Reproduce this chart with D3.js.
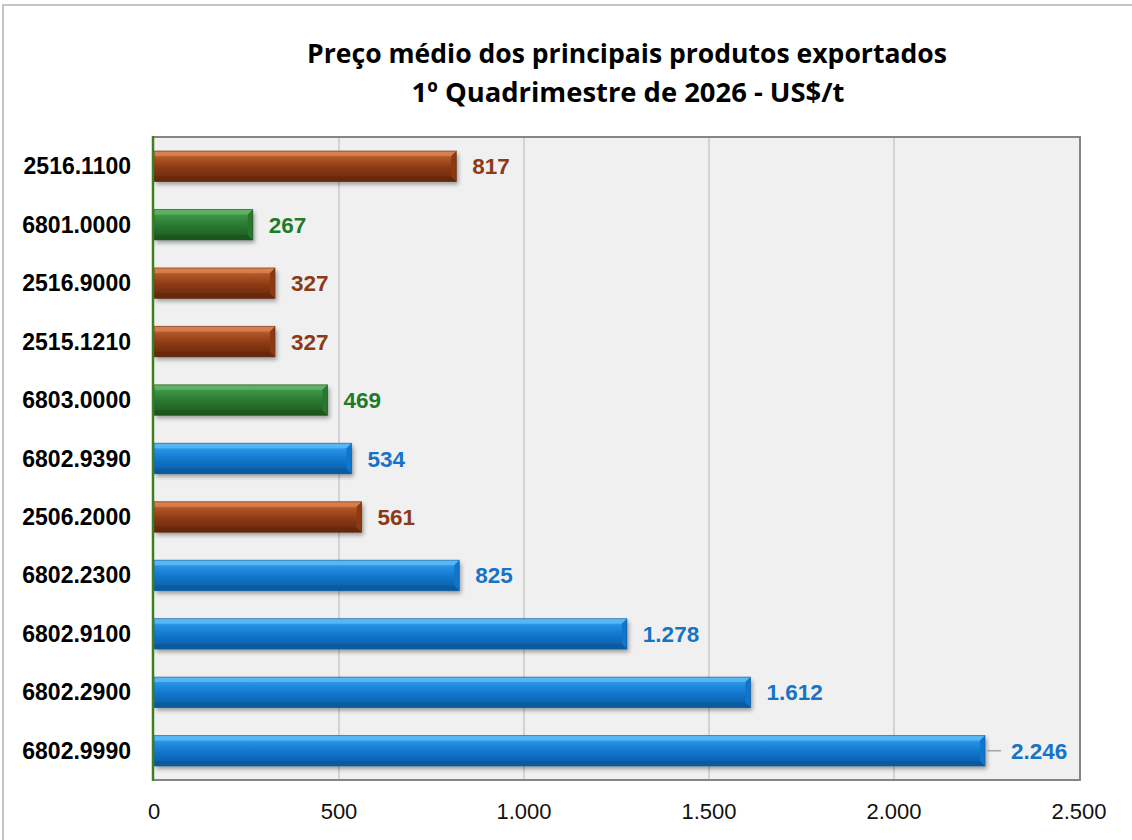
<!DOCTYPE html>
<html><head><meta charset="utf-8">
<script src="https://cdn.jsdelivr.net/npm/d3@7"></script>
<style>body{margin:0;background:#fff}svg{display:block}</style>
</head><body>
<svg id="c" width="1132" height="840"></svg>
<script>
const categories = ["2516.1100","6801.0000","2516.9000","2515.1210","6803.0000","6802.9390","2506.2000","6802.2300","6802.9100","6802.2900","6802.9990"];
const values = [817,267,327,327,469,534,561,825,1278,1612,2246];
const groups = ["brown","green","brown","brown","green","blue","brown","blue","blue","blue","blue"];
const valueLabels = ["817","267","327","327","469","534","561","825","1.278","1.612","2.246"];
const tickValues = [0,500,1000,1500,2000,2500];
const tickLabels = ["0","500","1.000","1.500","2.000","2.500"];
const titleLines = ["Preço médio dos principais produtos exportados","1º Quadrimestre de 2026 - US$/t"];

const palette = {
  brown:{light:"#d98150",mid:"#b05628",main:"#8c3a14",dark:"#66280b",label:"#8b3a16"},
  green:{light:"#5fb364",mid:"#3b9242",main:"#29772f",dark:"#1b571f",label:"#1f7a2b"},
  blue:{light:"#5ab8f5",mid:"#2590e4",main:"#1076cc",dark:"#0b5a9e",label:"#1674c6"}
};

const svg = d3.select("#c");
const defs = svg.append("defs");
Object.entries(palette).forEach(([k,p])=>{
  const g = defs.append("linearGradient").attr("id","g-"+k).attr("x1",0).attr("y1",0).attr("x2",0).attr("y2",1);
  g.append("stop").attr("offset","0%").attr("stop-color",p.light);
  g.append("stop").attr("offset","22%").attr("stop-color",p.mid);
  g.append("stop").attr("offset","55%").attr("stop-color",p.main);
  g.append("stop").attr("offset","100%").attr("stop-color",p.dark);
});
const f = defs.append("filter").attr("id","sh").attr("x","-5%").attr("y","-50%").attr("width","110%").attr("height","200%");
f.append("feGaussianBlur").attr("stdDeviation",2);

// outer border
svg.append("rect").attr("x",3).attr("y",5).attr("width",1140).attr("height",850)
  .attr("fill","#fff").attr("stroke","#c4c4c4").attr("stroke-width",2);

const L=154, R=1079, T=137, B=780;
const x = d3.scaleLinear().domain([0,2500]).range([L,R]);
const y = d3.scaleBand().domain(categories).range([T,B]).paddingInner(0.48).paddingOuter(0.24);

svg.append("rect").attr("x",L).attr("y",T).attr("width",1080-L).attr("height",B-T).attr("fill","#f0f0f0");
// gridlines
svg.append("g").selectAll("line").data(tickValues.slice(1,-1)).join("line")
  .attr("x1",d=>x(d)).attr("x2",d=>x(d)).attr("y1",T).attr("y2",B)
  .attr("stroke","#c3c3c3").attr("stroke-width",1.3);
// plot border
svg.append("path").attr("d",`M${L},${T}H1080V${B}H${L}`).attr("fill","none").attr("stroke","#858585").attr("stroke-width",2);

// bars
const bars = svg.append("g").selectAll("g").data(categories).join("g");
const bh = y.bandwidth();
bars.append("rect").attr("x",L+2).attr("y",(d)=>y(d)+3).attr("width",(d,i)=>x(values[i])-L).attr("height",bh)
  .attr("fill","#000").attr("opacity",0.35).attr("filter","url(#sh)");
bars.append("rect").attr("x",L).attr("y",d=>y(d)).attr("width",(d,i)=>x(values[i])-L).attr("height",bh)
  .attr("fill",(d,i)=>`url(#g-${groups[i]})`);
const bv = 5;
bars.append("path").attr("d",(d,i)=>{const x1=x(values[i]),y0=y(d);return `M${L},${y0}H${x1}L${x1-bv},${y0+bv}H${L}Z`;})
  .attr("fill",(d,i)=>palette[groups[i]].light).attr("opacity",0.85);
bars.append("path").attr("d",(d,i)=>{const x1=x(values[i]),y1=y(d)+bh;return `M${L},${y1}H${x1}L${x1-bv},${y1-bv}H${L}Z`;})
  .attr("fill",(d,i)=>palette[groups[i]].dark).attr("opacity",0.9);
bars.append("path").attr("d",(d,i)=>{const x1=x(values[i]),y0=y(d),y1=y0+bh;return `M${x1},${y0}L${x1-bv},${y0+bv}V${y1-bv}L${x1},${y1}Z`;})
  .attr("fill",(d,i)=>palette[groups[i]].main);
bars.append("rect").attr("x",L).attr("y",d=>y(d)).attr("width",(d,i)=>x(values[i])-L).attr("height",bh)
  .attr("fill","none").attr("stroke",(d,i)=>palette[groups[i]].dark).attr("stroke-opacity",0.6).attr("stroke-width",1);

// value labels
bars.each(function(d,i){
  const g=d3.select(this), xe=x(values[i]), cy=y(d)+bh/2;
  let off=16;
  if(i===categories.length-1){
    off=26;
    g.append("line").attr("x1",xe+2).attr("x2",xe+16).attr("y1",cy).attr("y2",cy).attr("stroke","#9a9a9a").attr("stroke-width",1.3);
  }
  g.append("text").attr("x",xe+off).attr("y",cy+8).text(valueLabels[i])
    .attr("font-family","Liberation Sans, Arial, sans-serif").attr("font-weight","bold").attr("font-size",22.5)
    .attr("fill",palette[groups[i]].label);
});

// left axis line
svg.append("line").attr("x1",L-1).attr("x2",L-1).attr("y1",T-1).attr("y2",B+1).attr("stroke","#3f7f22").attr("stroke-width",2.5);

// category labels
svg.append("g").selectAll("text").data(categories).join("text")
  .attr("x",131).attr("y",d=>y(d)+bh/2+8).attr("text-anchor","end").text(d=>d)
  .attr("font-family","Liberation Sans, Arial, sans-serif").attr("font-weight","bold").attr("font-size",23).attr("fill","#000");

// x tick labels
svg.append("g").selectAll("text").data(tickValues).join("text")
  .attr("x",d=>x(d)).attr("y",819).attr("text-anchor","middle").text((d,i)=>tickLabels[i])
  .attr("font-family","Liberation Sans, Arial, sans-serif").attr("font-size",22).attr("fill","#111");

// title
const tt = svg.append("g");
const t1 = tt.append("text").attr("x",627).attr("y",63).attr("text-anchor","middle").text(titleLines[0]);
const t2 = tt.append("text").attr("x",628).attr("y",102).attr("text-anchor","middle").text(titleLines[1]);
tt.selectAll("text").attr("font-family","Open Sans, sans-serif").attr("font-weight","bold").attr("font-size",24).attr("fill","#000");
const w1 = t1.node().getComputedTextLength();
const w2 = t2.node().getComputedTextLength();
t1.attr("font-size",24*640/w1);
t2.attr("font-size",Math.min(24*436/w2, 24*660/w1));
</script>
</body></html>
